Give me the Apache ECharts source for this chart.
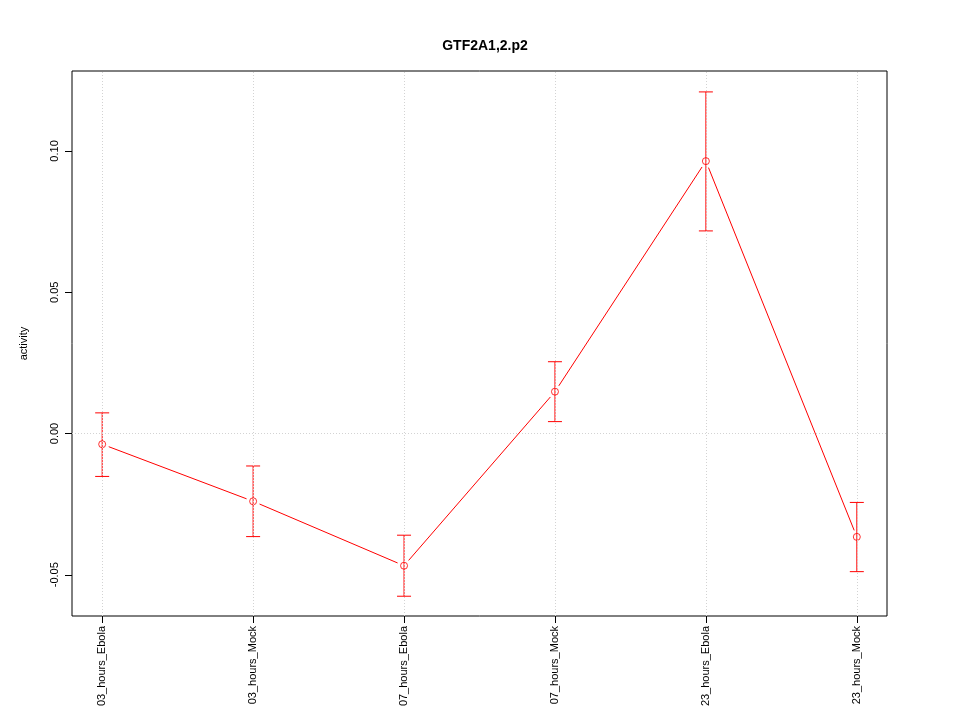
<!DOCTYPE html>
<html>
<head>
<meta charset="utf-8">
<script src="https://cdn.jsdelivr.net/npm/echarts@6/dist/echarts.min.js"></script>
<style>html,body{margin:0;padding:0;background:#fff}#c{width:960px;height:720px}</style>
</head>
<body>
<div id="c"></div>
<script>
const categories = ['03_hours_Ebola','03_hours_Mock','07_hours_Ebola','07_hours_Mock','23_hours_Ebola','23_hours_Mock'];
const activity = [-0.0038, -0.0240, -0.0468, 0.0148, 0.0964, -0.0366];
const upper = [0.0073, -0.0115, -0.0360, 0.0254, 0.1209, -0.0244];
const lower = [-0.0152, -0.0365, -0.0576, 0.0042, 0.0717, -0.0489];
const yTicks = [-0.05, 0.00, 0.05, 0.10];
const xPositions = categories.map((c, i) => i + 1);

const font = 'Liberation Sans, Arial, Helvetica, sans-serif';
const red = '#FF0000';

const errData = xPositions.map((x, i) => [x, lower[i], upper[i]]);
const segData = [];
for (let i = 0; i < categories.length - 1; i++) {
  segData.push([xPositions[i], activity[i], xPositions[i + 1], activity[i + 1]]);
}
const ptData = xPositions.map((x, i) => [x, activity[i]]);

const chart = echarts.init(document.getElementById('c'));
chart.setOption({
  animation: false,
  backgroundColor: '#fff',
  title: {
    text: 'GTF2A1,2.p2',
    left: 480, top: 34, textAlign: 'center',
    textStyle: { fontFamily: font, fontSize: 14, fontWeight: 'bold', color: '#000' }
  },
  grid: { left: 72, right: 73, top: 71, bottom: 104, show: true, borderColor: '#000', borderWidth: 1, backgroundColor: 'transparent' },
  xAxis: {
    type: 'value', min: 0.8, max: 6.2,
    splitLine: { show: false },
    axisLine: { show: false, onZero: false },
    axisTick: { show: true, length: 7, customValues: xPositions, lineStyle: { color: '#000' } },
    axisLabel: {
      customValues: xPositions, rotate: 90, margin: 10,
      fontFamily: font, fontSize: 11, color: '#000',
      formatter: v => categories[Math.round(v) - 1] || ''
    }
  },
  yAxis: {
    type: 'value', min: -0.0646, max: 0.1283,
    name: 'activity', nameLocation: 'middle', nameGap: 43, nameRotate: 90,
    nameTextStyle: { fontFamily: font, fontSize: 11, color: '#000' },
    splitLine: { show: false },
    axisLine: { show: false, onZero: false },
    axisTick: { show: true, length: 7, customValues: yTicks, lineStyle: { color: '#000' } },
    axisLabel: {
      customValues: yTicks, rotate: 90, margin: 12,
      fontFamily: font, fontSize: 11, color: '#000',
      formatter: v => v.toFixed(2)
    }
  },
  series: [
    {
      type: 'line', data: [], z: 1, silent: true,
      markLine: {
        silent: true, symbol: 'none', label: { show: false },
        lineStyle: { color: '#d3d3d3', type: [1, 2], width: 1 },
        data: xPositions.map(x => ({ xAxis: x })).concat([{ yAxis: 0 }])
      }
    },
    {
      type: 'custom', z: 3, silent: true,
      data: errData,
      renderItem: function (params, api) {
        const x = api.value(0);
        const lo = api.coord([x, api.value(1)]);
        const hi = api.coord([x, api.value(2)]);
        const w = 7;
        const st = { stroke: red, lineWidth: 1 };
        return {
          type: 'group', children: [
            { type: 'line', shape: { x1: lo[0], y1: lo[1], x2: hi[0], y2: hi[1] }, style: st },
            { type: 'line', shape: { x1: lo[0] - w, y1: lo[1], x2: lo[0] + w, y2: lo[1] }, style: st },
            { type: 'line', shape: { x1: hi[0] - w, y1: hi[1], x2: hi[0] + w, y2: hi[1] }, style: st }
          ]
        };
      }
    },
    {
      type: 'custom', z: 3, silent: true,
      data: segData,
      renderItem: function (params, api) {
        const a = api.coord([api.value(0), api.value(1)]);
        const b = api.coord([api.value(2), api.value(3)]);
        const dx = b[0] - a[0], dy = b[1] - a[1];
        const len = Math.sqrt(dx * dx + dy * dy);
        const g = 7;
        const ux = dx / len, uy = dy / len;
        return {
          type: 'line',
          shape: { x1: a[0] + ux * g, y1: a[1] + uy * g, x2: b[0] - ux * g, y2: b[1] - uy * g },
          style: { stroke: red, lineWidth: 1 }
        };
      }
    },
    {
      type: 'scatter', z: 4, silent: true,
      data: ptData,
      symbol: 'circle', symbolSize: 7,
      itemStyle: { color: 'rgba(0,0,0,0)', borderColor: red, borderWidth: 1 }
    }
  ]
});
</script>
</body>
</html>
